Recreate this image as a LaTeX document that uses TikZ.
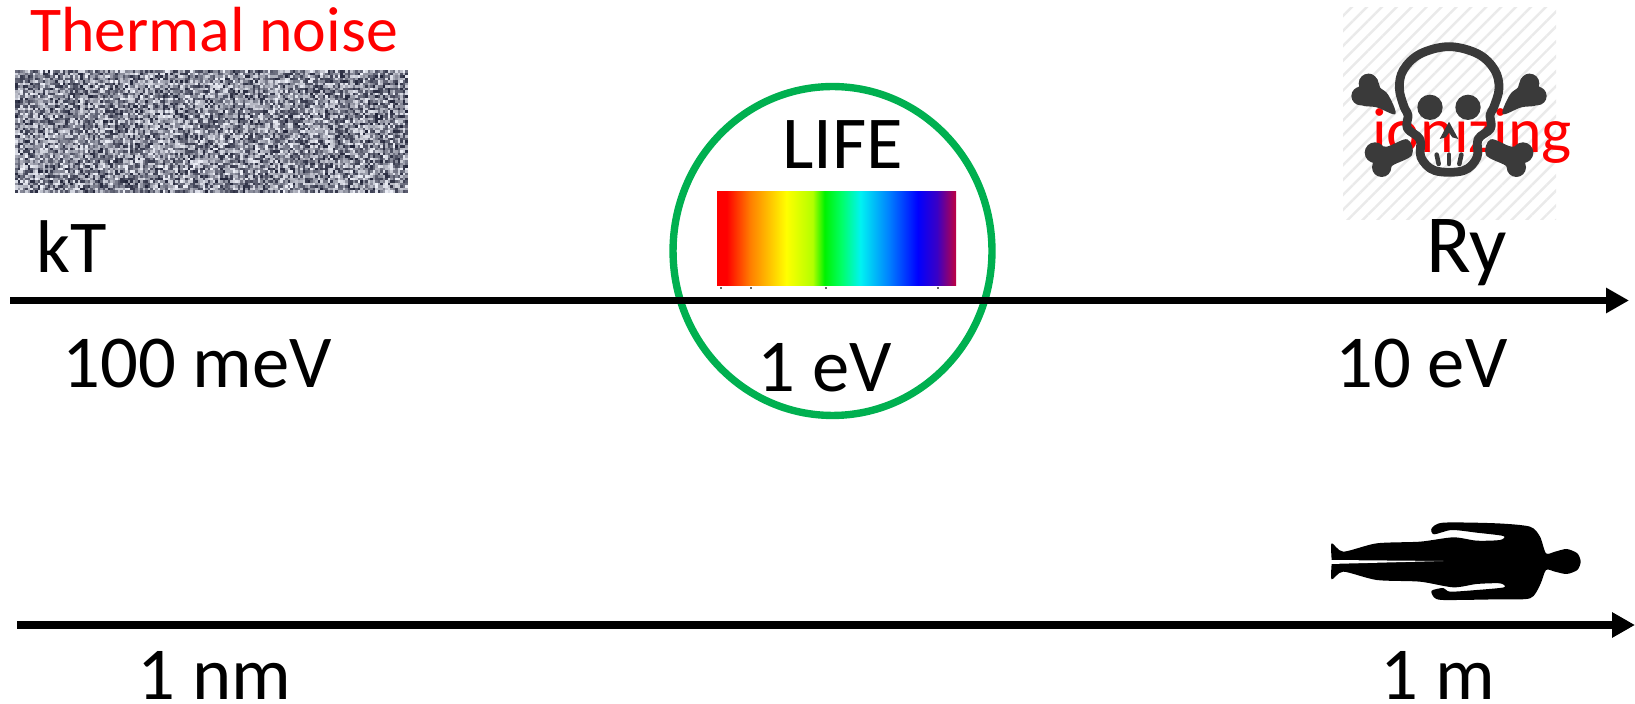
\documentclass[tikz,border=0pt]{standalone}
\usepackage{fontspec}
\setmainfont{Carlito}
\usetikzlibrary{arrows.meta,patterns.meta,shapes.geometric}

\definecolor{lifegreen}{HTML}{00B050}
\definecolor{skullgray}{HTML}{3A3A3A}
\definecolor{hatchgray}{HTML}{EAEAEA}
\definecolor{noisedark}{HTML}{22253A}
\definecolor{noiselight}{HTML}{F0F2FA}

\pgfdeclarehorizontalshading{spectrum}{100bp}{%
  color(0bp)=(red); color(27bp)=(red); color(32bp)=(orange);
  color(39.5bp)=(yellow); color(45bp)=(yellow!70!green); color(47.5bp)=(green!95!black);
  color(51bp)=(green!60!cyan); color(55bp)=(cyan!95!black); color(61bp)=(cyan!50!blue);
  color(67bp)=(blue); color(71bp)=(blue!70!purple); color(75bp)=(purple); color(100bp)=(purple)}

\begin{document}
\begin{tikzpicture}[
  x=0.02cm, y=0.02cm,
  biglabel/.style={font=\fontsize{42.5}{50}\selectfont, text=black, inner sep=0pt, anchor=base west},
  midlabel/.style={font=\fontsize{36.3}{42}\selectfont, inner sep=0pt, anchor=base west},
  axis/.style={-{Triangle[length=13pt,width=13.6pt]}, line width=4.2pt, draw=black},
  skullpart/.style={fill=skullgray, draw=none},
]
\useasboundingbox (0,0) rectangle (1635,703);

% noise patch, grains laid down one by one
\pgfmathsetseed{7}
\foreach \i in {0,...,156}
  \foreach \j in {0,...,48} {
    \pgfmathsetmacro{\g}{100*rnd}
    \fill[noisedark!\g!noiselight] ({15+2.5*\i},{510+2.5*\j}) rectangle ++(2.9,2.9);
  }
\node[midlabel, text=red] (noise) at (30,651) {Thermal noise};

% hatched square behind the skull
\fill[pattern={Lines[angle=45,distance=6pt,line width=1.4pt]}, pattern color=hatchgray]
  (1343,483) rectangle (1556,695);
\node[midlabel, text=red] (ion) at (1372,550) {ionizing};

% skull and bones, traced in the crop's pixels
\begin{scope}[shift={(1320,703)}, xscale=1/3, yscale=-1/3]
  \draw[skullgray, line width=5pt, line join=round] plot[smooth cycle, tension=0.6] coordinates {
    (387,140) (300,162) (250,210) (238,265) (252,320) (264,345) (262,385) (300,418) (303,472) (345,512)
    (430,512) (471,472) (474,418) (512,385) (510,345) (522,320) (537,265) (524,210) (474,162)};
  \foreach \mx in {0,1} {
    \begin{scope}[shift={(774*\mx,0)}, xscale={1-2*\mx}]
      \fill[skullpart] (145,250) circle (29) (122,288) circle (28);
      \fill[skullpart] plot[smooth cycle, tension=0.6] coordinates {
        (145,222) (172,238) (180,262) (205,285) (226,342) (170,322) (125,316) (100,290) (115,262)};
      \fill[skullpart] (165,458) circle (31) (185,502) circle (29);
      \fill[skullpart] plot[smooth cycle, tension=0.6] coordinates {
        (140,462) (165,432) (200,440) (262,418) (276,465) (217,497) (205,520) (180,525) (160,490)};
      \fill[skullpart] (330,322) circle (38);
      \draw[skullgray, line width=2.6pt, line cap=round] (350,464) -- (356,492);
    \end{scope}
  }
  \fill[skullpart] (387,365) -- (415,417) -- (397,412) -- (387,398) -- (377,412) -- (359,417) -- cycle;
  \draw[skullgray, line width=2.6pt, line cap=round] (387,464) -- (387,492);
\end{scope}

% spectrum inside the circle
\shade[shading=spectrum] (717,417) rectangle (956,511);
\foreach \tx in {720,750,825,937}
  \fill[black!60] (\tx,414) rectangle ++(1.5,2);
\node[draw=lifegreen, line width=4.2pt, ellipse, minimum width=6.38cm, minimum height=6.58cm, inner sep=0pt] (life) at (832.5,452) {};
\node[biglabel] (lifelabel) at (782,534) {LIFE};

% energy axis
\coordinate (eStart) at (10,402.5);
\coordinate (eEnd) at (1629,402.5);
\draw[axis] (eStart) -- (eEnd);
\node[biglabel] (kT) at (36,430) {kT};
\node[biglabel, font=\fontsize{47}{50}\selectfont] (Ry) at (1426,430) {Ry};
\node[biglabel] (meV) at (62,315) {100 meV};
\node[biglabel] (oneeV) at (757,311) {1 eV};
\node[biglabel] (teneV) at (1335,315) {10 eV};

% size axis
\coordinate (sStart) at (17,78);
\coordinate (sEnd) at (1635,78);
\draw[axis] (sStart) -- (sEnd);
\node[biglabel] (nm) at (137,4) {1 nm};
\node[biglabel] (m) at (1380,4) {1 m};

% person lying along the axis
\begin{scope}[shift={(1310,203)}, xscale=1/3, yscale=-1/3]
  \fill[black] plot[smooth cycle, tension=0.45] coordinates {
    (812,185) (802,160) (770,147) (735,155) (708,160) (690,110) (660,80) (560,70) (400,68) (365,85) (372,103)
    (425,90) (500,98) (580,108) (570,120) (500,122) (430,112) (330,125) (200,130) (100,155) (65,130) (65,185)
    (65,238) (100,215) (200,240) (330,245) (430,262) (500,252) (570,250) (582,262) (500,270) (420,275) (400,264)
    (365,272) (372,292) (400,300) (560,298) (660,295) (690,255) (708,210) (735,215) (770,222) (802,210)};
  \fill[white] (60,180) -- (400,183) -- (60,192) -- cycle;
\end{scope}
\end{tikzpicture}
\end{document}
